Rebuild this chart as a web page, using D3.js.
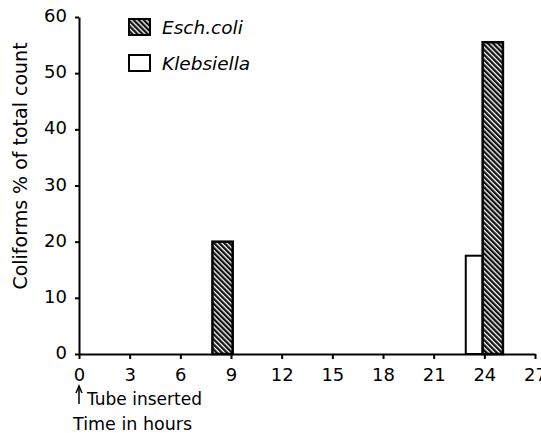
<html>
<script src='https://d3js.org/d3.v7.min.js'></script>
<style>
body { margin: 0; background: white; }
text { font-family: 'DejaVu Sans'; }
</style>
<body>
<svg width=541 height=433></svg>
<script>
// hours on x, percent of total count on y
const hourTicks = [0, 3, 6, 9, 12, 15, 18, 21, 24, 27];
const pctTicks = [0, 10, 20, 30, 40, 50, 60];

// Esch.coli bars: start hour, end hour, value
const ecoliStart = [7.9, 23.9];
const ecoliEnd = [9.1, 25.1];
const ecoliValues = [20, 55.5];

// Klebsiella bars
const klebStart = [22.9];
const klebEnd = [23.9];
const klebValues = [17.5];

const series = ['Esch.coli', 'Klebsiella'];

const svg = d3.select("svg");

const x = d3.scaleLinear().domain([0, 27]).range([79, 535]);
const y = d3.scaleLinear().domain([0, 60]).range([354, 17]);

// hatch pattern for Esch.coli
const defs = svg.append("defs");
const pat = defs.append("pattern")
    .attr("id", "hatch")
    .attr("patternUnits", "userSpaceOnUse")
    .attr("width", 3.6).attr("height", 3.6)
    .attr("patternTransform", "rotate(45)");
pat.append("rect").attr("width", 3.6).attr("height", 3.6).attr("fill", "#111");
pat.append("rect").attr("x", 0).attr("y", 0).attr("width", 3.6).attr("height", 1.3).attr("fill", "white");

const ecoli = ecoliStart.map((s, i) => ({s: s, e: ecoliEnd[i], v: ecoliValues[i]}));
const kleb = klebStart.map((s, i) => ({s: s, e: klebEnd[i], v: klebValues[i]}));

svg.append("g").selectAll("rect")
    .data(kleb)
    .enter()
    .append("rect")
    .attr("x", d => x(d.s))
    .attr("y", d => y(d.v))
    .attr("width", d => x(d.e) - x(d.s))
    .attr("height", d => y(0) - y(d.v))
    .attr("fill", "white")
    .attr("stroke", "black")
    .attr("stroke-width", 2);

svg.append("g").selectAll("rect")
    .data(ecoli)
    .enter()
    .append("rect")
    .attr("x", d => x(d.s))
    .attr("y", d => y(d.v))
    .attr("width", d => x(d.e) - x(d.s))
    .attr("height", d => y(0) - y(d.v))
    .attr("fill", "url(#hatch)")
    .attr("stroke", "black")
    .attr("stroke-width", 2.5);

// axes
const yAxis = svg.append("g")
    .attr("transform", "translate(79,0)")
    .call(d3.axisLeft(y).tickValues(pctTicks).tickSize(4).tickPadding(8).tickSizeOuter(0));

const xAxis = svg.append("g")
    .attr("transform", "translate(0,354)")
    .call(d3.axisBottom(x).tickValues(hourTicks).tickSize(5).tickPadding(9).tickSizeOuter(0));

[yAxis, xAxis].forEach(a => {
    a.select(".domain").attr("stroke-width", 2);
    a.selectAll(".tick line").attr("stroke-width", 2);
    a.selectAll("text").style("font-size", "18px").attr("fill", "black");
});
yAxis.selectAll("text").attr("dy", "0.25em");

// y title
svg.append("text")
    .attr("transform", "translate(27,166) rotate(-90)")
    .attr("text-anchor", "middle")
    .style("font-size", "19px")
    .text("Coliforms % of total count");

// legend
const legend = svg.append("g");
legend.selectAll("rect")
    .data(series)
    .enter()
    .append("rect")
    .attr("x", 129)
    .attr("y", (d, i) => 19 + i * 36)
    .attr("width", 21).attr("height", 16)
    .attr("fill", (d, i) => i == 0 ? "url(#hatch)" : "white")
    .attr("stroke", "black")
    .attr("stroke-width", 2);
legend.selectAll("text")
    .data(series)
    .enter()
    .append("text")
    .attr("x", 162)
    .attr("y", (d, i) => 34 + i * 36)
    .style("font-size", "18.5px")
    .style("font-style", "italic")
    .text(d => d);

// tube inserted note
svg.append("line")
    .attr("x1", x(0)).attr("x2", x(0))
    .attr("y1", 404).attr("y2", 388)
    .attr("stroke", "black").attr("stroke-width", 1.5);
svg.append("path")
    .attr("d", `M${x(0) - 3},${393} L${x(0)},${386} L${x(0) + 3},${393}`)
    .attr("fill", "none").attr("stroke", "black").attr("stroke-width", 1.5);
svg.append("text")
    .attr("x", 87).attr("y", 405)
    .style("font-size", "17px")
    .text("Tube inserted");
svg.append("text")
    .attr("x", 73).attr("y", 430)
    .style("font-size", "17.5px")
    .text("Time in hours");
</script>
</body>
</html>
